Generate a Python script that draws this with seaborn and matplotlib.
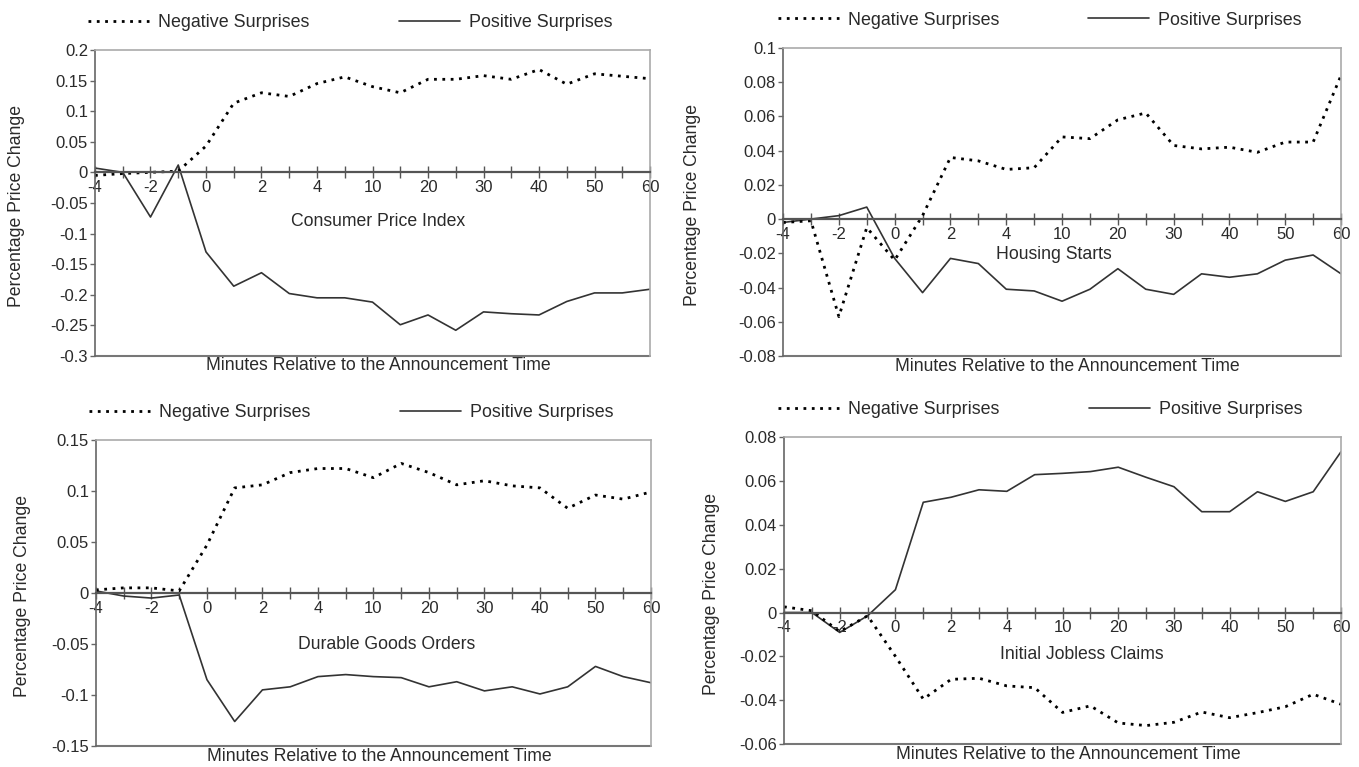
import numpy as np
import matplotlib
matplotlib.use("Agg")
import matplotlib.pyplot as plt
import seaborn as sns
from matplotlib.lines import Line2D

sns.set_style("white")
plt.rcParams['font.family'] = ['Liberation Sans', 'DejaVu Sans']
plt.rcParams['text.color'] = '#2a2a2a'
plt.rcParams['axes.labelcolor'] = '#2a2a2a'
plt.rcParams['xtick.color'] = '#2a2a2a'
plt.rcParams['ytick.color'] = '#2a2a2a'

# x categories (minutes relative to announcement), every other one is labelled
minutes = [-4, -3, -2, -1, 0, 1, 2, 3, 4, 5, 10, 15, 20, 25, 30, 35, 40, 45, 50, 55, 60]
shown_minutes = ["-4", "-2", "0", "2", "4", "10", "20", "30", "40", "50", "60"]

# Consumer Price Index
cpi_neg = [-0.005, -0.002, 0.0, 0.002, 0.043, 0.113, 0.130, 0.124, 0.145, 0.156, 0.140,
           0.130, 0.152, 0.152, 0.158, 0.152, 0.168, 0.144, 0.161, 0.157, 0.153]
cpi_pos = [0.007, 0.0, -0.073, 0.012, -0.130, -0.186, -0.164, -0.198, -0.205, -0.205, -0.212,
           -0.249, -0.233, -0.258, -0.228, -0.231, -0.233, -0.211, -0.197, -0.197, -0.191]
cpi_yticks = [0.2, 0.15, 0.1, 0.05, 0, -0.05, -0.1, -0.15, -0.2, -0.25, -0.3]
cpi_ylabels = ["0.2", "0.15", "0.1", "0.05", "0", "-0.05", "-0.1", "-0.15", "-0.2", "-0.25", "-0.3"]

# Housing Starts
hs_neg = [-0.002, -0.001, -0.057, -0.005, -0.024, 0.002, 0.036, 0.034, 0.029, 0.030, 0.048,
          0.047, 0.058, 0.062, 0.043, 0.041, 0.042, 0.039, 0.045, 0.045, 0.084]
hs_pos = [-0.002, 0.0, 0.002, 0.007, -0.023, -0.043, -0.023, -0.026, -0.041, -0.042, -0.048,
          -0.041, -0.029, -0.041, -0.044, -0.032, -0.034, -0.032, -0.024, -0.021, -0.032]
hs_yticks = [0.1, 0.08, 0.06, 0.04, 0.02, 0, -0.02, -0.04, -0.06, -0.08]
hs_ylabels = ["0.1", "0.08", "0.06", "0.04", "0.02", "0", "-0.02", "-0.04", "-0.06", "-0.08"]

# Durable Goods Orders
dg_neg = [0.003, 0.005, 0.005, 0.002, 0.047, 0.103, 0.106, 0.118, 0.122, 0.122, 0.113,
          0.127, 0.118, 0.106, 0.110, 0.105, 0.103, 0.083, 0.096, 0.092, 0.099]
dg_pos = [0.002, -0.003, -0.005, -0.002, -0.085, -0.126, -0.095, -0.092, -0.082, -0.080, -0.082,
          -0.083, -0.092, -0.087, -0.096, -0.092, -0.099, -0.092, -0.072, -0.082, -0.088]
dg_yticks = [0.15, 0.1, 0.05, 0, -0.05, -0.1, -0.15]
dg_ylabels = ["0.15", "0.1", "0.05", "0", "-0.05", "-0.1", "-0.15"]

# Initial Jobless Claims
ij_neg = [0.0026, 0.0008, -0.0087, -0.0015, -0.020, -0.0395, -0.0305, -0.030, -0.0335, -0.0343, -0.0456,
          -0.0426, -0.0504, -0.0516, -0.0501, -0.0454, -0.048, -0.0457, -0.043, -0.0373, -0.0419]
ij_pos = [0.0, 0.0, -0.0091, -0.0015, 0.0104, 0.0503, 0.0526, 0.056, 0.0553, 0.0629, 0.0635,
          0.0643, 0.0663, 0.0617, 0.0574, 0.046, 0.046, 0.0551, 0.0507, 0.0551, 0.0734]
ij_yticks = [0.08, 0.06, 0.04, 0.02, 0, -0.02, -0.04, -0.06]
ij_ylabels = ["0.08", "0.06", "0.04", "0.02", "0", "-0.02", "-0.04", "-0.06"]

panels = [
    ("Consumer Price Index", cpi_neg, cpi_pos, cpi_yticks, cpi_ylabels,
     [0.0699, 0.5359, 0.4084, 0.399], (0.51, 0.438), -0.148),
    ("Housing Starts", hs_neg, hs_pos, hs_yticks, hs_ylabels,
     [0.5762, 0.5359, 0.4106, 0.4016], (0.486, 0.328), -0.168),
    ("Durable Goods Orders", dg_neg, dg_pos, dg_yticks, dg_ylabels,
     [0.0706, 0.0274, 0.4084, 0.399], (0.524, 0.333), -0.138),
    ("Initial Jobless Claims", ij_neg, ij_pos, ij_yticks, ij_ylabels,
     [0.5769, 0.030, 0.4099, 0.400], (0.534, 0.293), -0.136),
]

neg_style = dict(color="black", lw=2.0, ls=(0, (1, 2)))
pos_style = dict(color="#333333", lw=1.2, ls="-")

fig = plt.figure(figsize=(13.59, 7.67), dpi=100)
pos = np.arange(len(minutes))

for title, neg, posv, yt, yl, rect, tpos, ylx in panels:
    ax = fig.add_axes(rect)
    sns.lineplot(x=pos, y=posv, ax=ax, legend=False, **pos_style)
    sns.lineplot(x=pos, y=neg, ax=ax, legend=False, **neg_style)

    ax.set_xlim(0, len(minutes) - 1)
    ax.set_ylim(min(yt), max(yt))

    ax.set_yticks(yt)
    ax.set_yticklabels(yl)
    ax.set_xticks(pos)
    ax.set_xticklabels([shown_minutes[i // 2] if i % 2 == 0 else "" for i in pos])

    # category axis crosses at zero, like the spreadsheet chart
    ax.spines["bottom"].set_position(("data", 0))
    ax.spines["bottom"].set_color("#555555")
    ax.spines["bottom"].set_linewidth(1.6)
    ax.spines["left"].set_color("#666666")
    ax.spines["left"].set_linewidth(1.2)
    for s in ["top", "right"]:
        ax.spines[s].set_color("#aaaaaa")
        ax.spines[s].set_linewidth(1.2)
    ax.axhline(min(yt), color="#777777", lw=1.5, clip_on=False)

    ax.tick_params(axis="x", direction="inout", length=9, width=1, color="#555555",
                   pad=1, labelsize=12, bottom=True)
    ax.tick_params(axis="y", direction="out", length=3.5, width=1, color="#666666",
                   pad=1.5, labelsize=12, left=True)

    ax.text(tpos[0], tpos[1], title, transform=ax.transAxes, ha="center", va="center",
            fontsize=12.7)
    ax.set_xlabel("Minutes Relative to the Announcement Time", fontsize=12.7, va="top")
    ax.xaxis.set_label_coords(0.51, -0.005)
    ax.set_ylabel("Percentage Price Change", fontsize=12.7, va="center")
    ax.yaxis.set_label_coords(ylx + 0.006, 0.49)

    handles = [Line2D([], [], **neg_style), Line2D([], [], **pos_style)]
    ax.legend(handles, ["Negative Surprises", "Positive Surprises"], ncol=2, frameon=False,
              loc="center", bbox_to_anchor=(0.46, 1.09), handlelength=3.4,
              handletextpad=0.5, columnspacing=5.0, fontsize=12.9)

fig.savefig("out.png", dpi=100)
